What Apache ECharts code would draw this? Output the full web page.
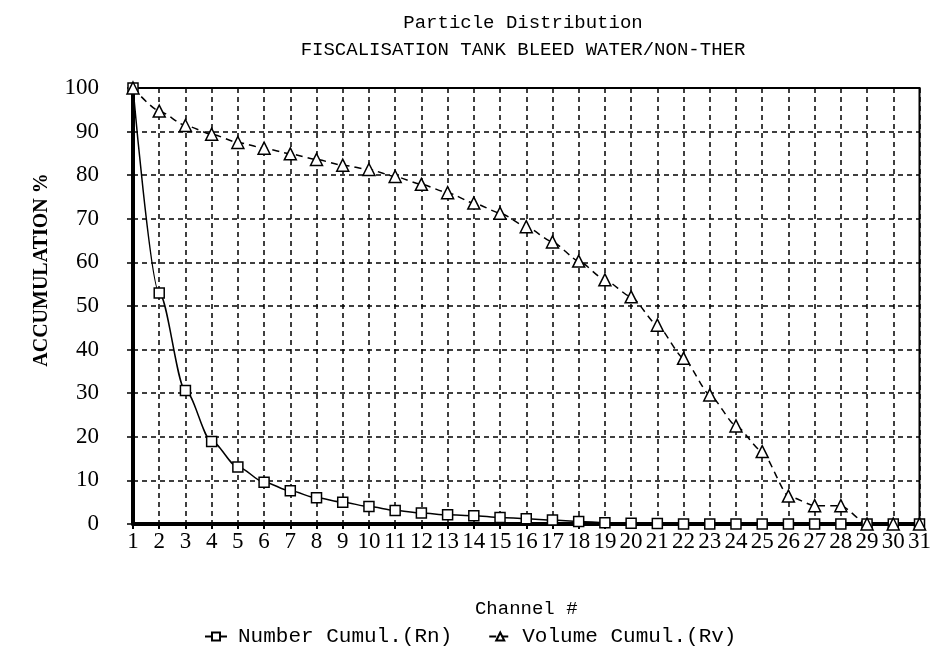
<!DOCTYPE html>
<html><head><meta charset="utf-8">
<script src="https://cdn.jsdelivr.net/npm/echarts@6/dist/echarts.min.js"></script>
<style>html,body{margin:0;padding:0;background:#fff}#c{width:934px;height:666px}</style>
</head><body><div id="c"></div>
<script>
const channels = ['1','2','3','4','5','6','7','8','9','10','11','12','13','14','15','16','17','18','19','20','21','22','23','24','25','26','27','28','29','30','31'];
const numberCumul = [100,53,30.6,18.9,13.1,9.6,7.6,6.0,5.0,4.0,3.1,2.5,2.1,1.9,1.5,1.2,0.9,0.6,0.3,0.2,0.1,0,0,0,0,0,0,0,0,0,0];
const volumeCumul = [100,94.7,91.4,89.4,87.5,86.2,84.9,83.6,82.3,81.3,79.7,77.9,76.0,73.6,71.3,68.2,64.7,60.3,56.0,52.1,45.6,38.0,29.6,22.5,16.6,6.4,4.2,4.2,0,0,0];
const yTicks = [0,10,20,30,40,50,60,70,80,90,100];

const chart = echarts.init(document.getElementById('c'), null, {renderer:'canvas'});
const mono = 'Liberation Mono';
const serif = 'Liberation Serif';
chart.setOption({
  animation:false,
  backgroundColor:'#fff',
  title:{
    text:'Particle Distribution\nFISCALISATION TANK BLEED WATER/NON-THER',
    left:518, top:4, textAlign:'center',
    textStyle:{fontFamily:mono, fontSize:19, fontWeight:'normal', color:'#000', lineHeight:27}
  },
  graphic:[{
    type:'text', x:42, y:270, rotation:Math.PI/2, originX:0, originY:0,
    style:{text:'ACCUMULATION %', font:'bold 20px "Liberation Serif"', fill:'#000', align:'center', verticalAlign:'middle'}
  }],
  legend:{
    bottom:14, left:199, itemWidth:22, itemHeight:10, itemGap:36,
    textStyle:{fontFamily:mono, fontSize:21, color:'#000', padding:[0,0,0,6]},
    data:['Number Cumul.(Rn)','Volume Cumul.(Rv)']
  },
  grid:{left:133, right:8, top:88, bottom:142, show:true, borderColor:'#000', borderWidth:2, containLabel:false},
  xAxis:{
    type:'category', data:channels, boundaryGap:false,
    name:'Channel #', nameLocation:'middle', nameGap:75,
    nameTextStyle:{fontFamily:mono, fontSize:19, color:'#000'},
    axisLine:{lineStyle:{color:'#000', width:4}},
    axisTick:{show:true, length:5, lineStyle:{color:'#000', width:2}},
    axisLabel:{interval:0, fontFamily:serif, fontSize:23, color:'#000', margin:6},
    splitLine:{show:true, lineStyle:{color:'#000', width:1.5, type:[5,4]}}
  },
  yAxis:{
    type:'value', min:0, max:100, interval:10,
    axisLine:{show:true, lineStyle:{color:'#000', width:4}},
    axisTick:{show:true, inside:false, length:6, lineStyle:{color:'#000', width:1.5}},
    axisLabel:{fontFamily:serif, fontSize:23, color:'#000', margin:34,
      formatter:v=>yTicks.includes(v)?String(v):''},
    splitLine:{show:true, lineStyle:{color:'#000', width:1.5, type:[5,4]}}
  },
  series:[
    {name:'Number Cumul.(Rn)', type:'line', data:numberCumul, symbol:'rect', symbolSize:10,
     smooth:0.3, smoothMonotone:'x',
     color:'#000',
     lineStyle:{color:'#000', width:1.5},
     itemStyle:{color:'#fff', borderColor:'#000', borderWidth:1.5}},
    {name:'Volume Cumul.(Rv)', type:'line', data:volumeCumul, symbol:'triangle', symbolSize:12,
     smooth:0.2, smoothMonotone:'x',
     color:'#000',
     lineStyle:{color:'#000', width:1.5, type:[7,5]},
     itemStyle:{color:'#fff', borderColor:'#000', borderWidth:1.5}}
  ]
});
</script></body></html>
